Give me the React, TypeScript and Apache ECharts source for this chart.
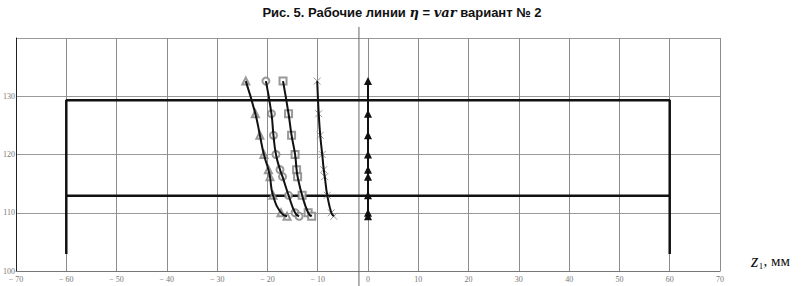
import React, { useEffect, useRef } from "react";
import * as echarts from "echarts";

// heights (mm) of the computed points, shared by all working lines
const zLevels = [132.6, 127.0, 123.3, 120.0, 117.4, 116.2, 113.0, 110.0, 109.4];
// x positions of each working line at those heights
const lineTriangle = [-24.3, -22.4, -21.5, -20.7, -19.8, -19.5, -18.9, -17.3, -16.1];
const lineCircle = [-20.3, -19.2, -18.8, -18.3, -17.5, -17.0, -15.8, -14.5, -13.7];
const lineSquare = [-16.9, -15.8, -15.2, -14.5, -14.2, -14.0, -13.1, -11.9, -11.2];
const lineCross = [-10.1, -9.8, -9.5, -9.1, -8.8, -8.6, -8.1, -7.3, -6.8];
const lineZero = [0, 0, 0, 0, 0, 0, 0, 0, 0];

// contour of the working area
const frameX = [-60, -60, 60, 60];
const frameY = [102.9, 129.3, 129.3, 102.9];
const midX = [-60, 60];
const midY = [112.9, 112.9];
// thin vertical reference line
const refX = [-1.8, -1.8];
const refY = [97.4, 141.9];

const xTicks = { min: -70, max: 70, step: 10 };
const yTicks = { min: 100, max: 140, step: 10 };

const pairs = (xs: number[], ys: number[]) => xs.map((x, i) => [x, ys[i]]);

export default function App() {
  const ref = useRef<HTMLDivElement>(null);
  useEffect(() => {
    if (!ref.current) return;
    const chart = echarts.init(ref.current, null, { renderer: "svg" });
    const markerColor = "#808080";
    const markers = (data: number[], symbol: string, size: number) => ({
      type: "scatter",
      data: pairs(data, zLevels),
      symbol,
      symbolSize: size,
      itemStyle: { color: markerColor, borderWidth: 0.8 },
      z: 4,
    });
    const curve = (data: number[]) => ({
      type: "line",
      data: pairs(data, zLevels),
      smooth: true,
      symbol: "none",
      lineStyle: { color: "#111", width: 2 },
      z: 5,
    });
    chart.setOption({
      animation: false,
      title: {
        text: "{b|Рис. 5. Рабочие линии }{m|η}{b| = }{m|var}{b| вариант № 2}",
        left: "center",
        top: 1,
        textStyle: {
          rich: {
            b: { fontFamily: "Liberation Sans, Arial", fontWeight: "bold", fontSize: 13, color: "#111" },
            m: { fontFamily: "DejaVu Serif, serif", fontStyle: "italic", fontSize: 13, color: "#111" },
          },
        },
      },
      grid: { left: 13, right: 84, top: 38, bottom: 15, containLabel: false },
      xAxis: {
        type: "value",
        min: xTicks.min,
        max: xTicks.max,
        interval: xTicks.step,
        axisLine: { show: true, onZero: false, lineStyle: { color: "#777", width: 1 } },
        axisTick: { show: false },
        splitLine: { show: true, lineStyle: { color: "#8c8c8c", width: 1 } },
        axisLabel: {
          fontSize: 8,
          color: "#777",
          fontFamily: "Liberation Serif, serif",
          margin: 4,
          formatter: (v: number) => (v < 0 ? "− " + Math.abs(v) : String(v)),
        },
      },
      yAxis: {
        type: "value",
        min: yTicks.min,
        max: yTicks.max,
        interval: yTicks.step,
        axisLine: { show: true, onZero: false, lineStyle: { color: "#222", width: 1 } },
        axisTick: { show: false },
        splitLine: { show: true, lineStyle: { color: "#9a9a9a", width: 1 } },
        axisLabel: {
          fontSize: 8,
          color: "#777",
          fontFamily: "Liberation Serif, serif",
          margin: 1,
          formatter: (v: number) => (v >= yTicks.max ? "" : String(v)),
        },
      },
      graphic: [
        {
          type: "text",
          left: 751,
          top: 251,
          style: {
            rich: {
              i: { font: "italic 19px 'Liberation Serif', serif", fill: "#111" },
              n: { font: "15px 'Liberation Serif', serif", fill: "#111" },
            },
            text: "{i|z}{n|₁, мм}",
          },
        },
      ],
      series: [
        {
          type: "line",
          data: pairs(refX, refY),
          symbol: "none",
          clip: false,
          lineStyle: { color: "#666", width: 1 },
          z: 2,
        },
        {
          type: "line",
          data: pairs(frameX, frameY),
          symbol: "none",
          lineStyle: { color: "#111", width: 2.5 },
          z: 3,
        },
        {
          type: "line",
          data: pairs(midX, midY),
          symbol: "none",
          lineStyle: { color: "#111", width: 2.5 },
          z: 3,
        },
        markers(lineTriangle, "emptyTriangle", 7),
        markers(lineCircle, "emptyCircle", 7),
        markers(lineSquare, "emptyRect", 7),
        {
          ...markers(lineCross, "path://M0,0L10,10M10,0L0,10", 7),
          itemStyle: { color: "none", borderColor: markerColor, borderWidth: 1 },
        },
        curve(lineTriangle),
        curve(lineCircle),
        curve(lineSquare),
        curve(lineCross),
        {
          type: "line",
          data: pairs(lineZero, zLevels),
          symbol: "triangle",
          symbolSize: 8,
          lineStyle: { color: "#111", width: 2 },
          itemStyle: { color: "#111" },
          z: 5,
        },
      ],
    });
    return () => chart.dispose();
  }, []);
  return (
    <div
      ref={ref}
      style={{ position: "fixed", left: 0, top: 0, width: 804, height: 286, background: "#fff" }}
    />
  );
}
